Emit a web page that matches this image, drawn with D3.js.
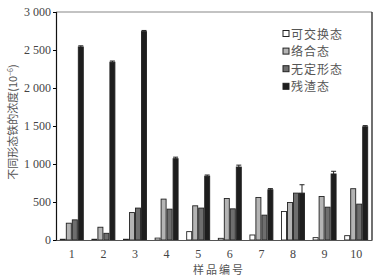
<!DOCTYPE html>
<meta charset="utf-8">
<script src="https://d3js.org/d3.v7.min.js"></script>
<style>
  body { margin: 0; background: #fff; }
</style>
<div id="chart"></div>
<script>
// samples and iron fractions
var samples = ["1", "2", "3", "4", "5", "6", "7", "8", "9", "10"];
var seriesNames = ["可交换态", "络合态", "无定形态", "残渣态"];
var exchangeable = [10, 10, 10, 25, 110, 22, 66, 375, 31, 57];
var complexed    = [221, 168, 361, 538, 450, 546, 560, 494, 573, 675];
var amorphous    = [265, 88, 420, 406, 420, 410, 327, 617, 432, 472];
var residual     = [2540, 2340, 2742, 1070, 840, 960, 661, 617, 869, 1490];
var residualErr  = [15, 15, 15, 20, 15, 25, 15, 110, 35, 15];
var yTicks = [0, 500, 1000, 1500, 2000, 2500, 3000];
var yTickLabels = ["0", "500", "1 000", "1 500", "2 000", "2 500", "3 000"];

var colors = ["#ffffff", "#b4b4b4", "#6e6e6e", "#1e1e1e"];
var allSeries = [exchangeable, complexed, amorphous, residual];

var W = 382, H = 279;
var margin = {top: 12, right: 10, bottom: 39, left: 56};
var width = W - margin.left - margin.right,
    height = H - margin.top - margin.bottom;

var svg = d3.select("#chart").append("svg")
    .attr("width", W).attr("height", H)
    .style("font-family", "'Liberation Serif', 'DejaVu Serif', serif");

var g = svg.append("g")
    .attr("transform", "translate(" + margin.left + "," + margin.top + ")");

var x = d3.scaleBand().domain(samples).range([0, width]).padding(0);
var x1 = d3.scaleBand().domain(d3.range(4)).range([x.bandwidth() / 2 - 12, x.bandwidth() / 2 + 12]);
var y = d3.scaleLinear().domain([0, 3000]).range([height, 0]);

// frame
g.append("line").attr("x1", 0).attr("x2", width).attr("y1", 0).attr("y2", 0)
  .attr("stroke", "#888").attr("stroke-width", 1.2);
g.append("line").attr("x1", width).attr("x2", width).attr("y1", 0).attr("y2", height)
  .attr("stroke", "#111").attr("stroke-width", 1.2);

// bars
var groups = g.selectAll(".grp").data(samples).enter().append("g")
    .attr("transform", function(d) { return "translate(" + x(d) + ",0)"; });

groups.selectAll("rect")
  .data(function(d, i) { return allSeries.map(function(s, k) { return {k: k, v: s[i]}; }); })
  .enter().append("rect")
    .attr("x", function(d) { return x1(d.k) + 0.5; })
    .attr("width", x1.bandwidth() - 1)
    .attr("y", function(d) { return y(d.v); })
    .attr("height", function(d) { return height - y(d.v); })
    .attr("fill", function(d) { return colors[d.k]; })
    .attr("stroke", "#222")
    .attr("stroke-width", 0.9);

// error bars on residual
groups.append("path")
  .attr("d", function(d, i) {
    var cx = x1(3) + x1.bandwidth() / 2;
    var yt = y(residual[i] + residualErr[i]), yb = y(residual[i]);
    return "M" + cx + "," + yb + "V" + yt + "M" + (cx - 2.5) + "," + yt + "H" + (cx + 2.5);
  })
  .attr("stroke", "#222").attr("stroke-width", 1).attr("fill", "none");

// axes
var yAxis = g.append("g")
  .call(d3.axisLeft(y).tickValues(yTicks).tickSize(3)
    .tickFormat(function(d, i) { return yTickLabels[i]; }));
yAxis.select(".domain").attr("stroke", "#111").attr("stroke-width", 1.2);
yAxis.selectAll("text").attr("font-size", 12).attr("fill", "#444")
  .style("font-family", "'Liberation Serif', serif").attr("x", -5);

var xAxis = g.append("g").attr("transform", "translate(0," + height + ")")
  .call(d3.axisBottom(x).tickSize(0).tickPadding(9));
xAxis.select(".domain").attr("stroke", "#555").attr("stroke-width", 1);
xAxis.selectAll("text").attr("font-size", 12).attr("fill", "#444")
  .style("font-family", "'Liberation Serif', serif");

// axis titles
svg.append("text")
  .attr("x", margin.left + width / 2 + 5)
  .attr("y", H - 5)
  .attr("text-anchor", "middle")
  .attr("font-size", 11)
  .attr("fill", "#555")
  .style("font-family", "'Noto Sans CJK SC', sans-serif")
  .style("letter-spacing", "2px")
  .text("样品编号");

var yl = svg.append("text")
  .attr("transform", "translate(17," + (margin.top + height / 2 - 4) + ") rotate(-90)")
  .attr("text-anchor", "middle")
  .attr("font-size", 11)
  .attr("fill", "#555")
  .style("font-family", "'Noto Sans CJK SC', sans-serif");
yl.append("tspan").text("不同形态铁的浓度(10");
yl.append("tspan").attr("dy", -4).attr("font-size", 7).text("−6");
yl.append("tspan").attr("dy", 4).text(")");

// legend
var legend = g.selectAll(".leg").data(seriesNames).enter().append("g")
  .attr("transform", function(d, i) { return "translate(" + (286 - margin.left) + "," + (34 + i * 17.6 - margin.top) + ")"; });
legend.append("rect")
  .attr("x", -3).attr("y", -3.5).attr("width", 6).attr("height", 6)
  .attr("fill", function(d, i) { return colors[i]; })
  .attr("stroke", "#222").attr("stroke-width", 1);
legend.append("text")
  .attr("x", 5).attr("y", 4.5)
  .attr("font-size", 12)
  .attr("fill", "#555")
  .style("font-family", "'Noto Sans CJK SC', sans-serif")
  .style("letter-spacing", "1px")
  .text(function(d) { return d; });
</script>
